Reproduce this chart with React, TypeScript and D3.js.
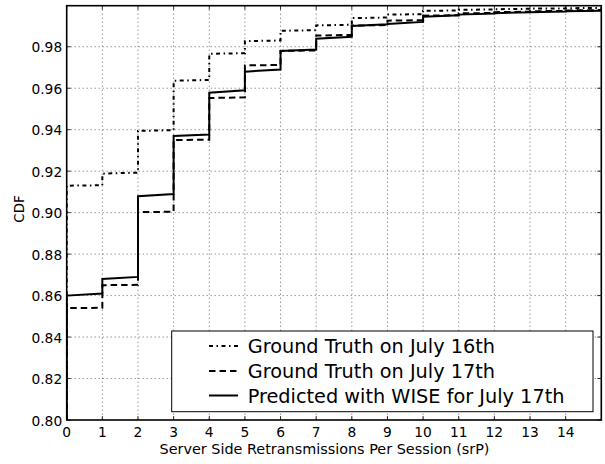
import React from "react";
import * as d3 from "d3";

// Retransmission counts (x) and CDF levels over each unit interval [k, k+1):
// value at the start of the interval and at its end.
const srpBins = [0, 1, 2, 3, 4, 5, 6, 7, 8, 9, 10, 11, 12, 13, 14];

const july16Start = [0.913, 0.9188, 0.9394, 0.9636, 0.9766, 0.9827, 0.9877, 0.9903, 0.9938, 0.9955, 0.9973, 0.9978, 0.9981, 0.9984, 0.9986];
const july16End = [0.9132, 0.9193, 0.9398, 0.964, 0.9769, 0.983, 0.988, 0.9906, 0.9941, 0.9957, 0.9975, 0.998, 0.9983, 0.9985, 0.9987];

const july17Start = [0.854, 0.865, 0.9003, 0.935, 0.9553, 0.971, 0.978, 0.9854, 0.9902, 0.9926, 0.995, 0.9961, 0.9967, 0.9971, 0.9975];
const july17End = [0.8541, 0.8652, 0.9004, 0.9352, 0.9556, 0.9712, 0.9782, 0.9857, 0.9905, 0.9928, 0.9952, 0.9963, 0.9969, 0.9973, 0.9977];

const wiseStart = [0.86, 0.868, 0.9079, 0.937, 0.9578, 0.968, 0.978, 0.9839, 0.99, 0.991, 0.9945, 0.9955, 0.9962, 0.9967, 0.9971];
const wiseEnd = [0.861, 0.869, 0.909, 0.9377, 0.959, 0.969, 0.9787, 0.9848, 0.9908, 0.992, 0.9952, 0.996, 0.9966, 0.997, 0.9974];

const xTicks = [0, 1, 2, 3, 4, 5, 6, 7, 8, 9, 10, 11, 12, 13, 14];
const yTicks = [0.8, 0.82, 0.84, 0.86, 0.88, 0.9, 0.92, 0.94, 0.96, 0.98];

const legendLabels = [
  "Ground Truth on July 16th",
  "Ground Truth on July 17th",
  "Predicted with WISE for July 17th",
];

const W = 605;
const H = 464;
const plot = { left: 66.7, right: 601.3, top: 5.7, bottom: 420 };
const FONT = "'DejaVu Sans', sans-serif";

const x = d3.scaleLinear().domain([0, 15]).range([plot.left, plot.right]);
const y = d3.scaleLinear().domain([0.8, 0.9998]).range([plot.bottom, plot.top]);

function stepPoints(starts: number[], ends: number[]): [number, number][] {
  const pts: [number, number][] = [[srpBins[0], y.domain()[0]]];
  srpBins.forEach((k, i) => {
    pts.push([k, starts[i]]);
    pts.push([k + 1, ends[i]]);
  });
  return pts;
}

const line = d3
  .line<[number, number]>()
  .x((d) => x(d[0]))
  .y((d) => y(d[1]));

const series = [
  { label: legendLabels[0], pts: stepPoints(july16Start, july16End), dash: "4,3.5,1.5,3.5" },
  { label: legendLabels[1], pts: stepPoints(july17Start, july17End), dash: "6.5,4" },
  { label: legendLabels[2], pts: stepPoints(wiseStart, wiseEnd), dash: undefined as string | undefined },
];

export default function App() {
  const tickLen = 4;
  const legend = { x: 171.7, y: 331, w: 421.3, h: 80.7 };
  const rowY = [346, 371, 395.5];
  return (
    <svg
      width={W}
      height={H}
      style={{ position: "absolute", left: 0, top: 0, background: "#fff" }}
      fontFamily={FONT}
    >
      <defs>
        <clipPath id="plotClip">
          <rect x={plot.left} y={plot.top} width={plot.right - plot.left} height={plot.bottom - plot.top} />
        </clipPath>
      </defs>
      <rect width={W} height={H} fill="#fff" />

      {/* grid */}
      <g stroke="#000" strokeWidth={0.6} strokeDasharray="1,3">
        {xTicks.slice(1).map((t) => (
          <line key={"gx" + t} x1={x(t)} x2={x(t)} y1={plot.top} y2={plot.bottom} />
        ))}
        {yTicks.slice(1).map((t) => (
          <line key={"gy" + t} x1={plot.left} x2={plot.right} y1={y(t)} y2={y(t)} />
        ))}
      </g>

      {/* CDF curves */}
      <g clipPath="url(#plotClip)" fill="none" stroke="#000" strokeWidth={2}>
        {series.map((s) => (
          <path key={s.label} d={line(s.pts) || ""} strokeDasharray={s.dash} />
        ))}
      </g>

      {/* ticks (inside, all sides) */}
      <g stroke="#000" strokeWidth={0.8}>
        {xTicks.map((t) => (
          <g key={"tx" + t}>
            <line x1={x(t)} x2={x(t)} y1={plot.bottom} y2={plot.bottom - tickLen} />
            <line x1={x(t)} x2={x(t)} y1={plot.top} y2={plot.top + tickLen} />
          </g>
        ))}
        {yTicks.map((t) => (
          <g key={"ty" + t}>
            <line x1={plot.left} x2={plot.left + tickLen} y1={y(t)} y2={y(t)} />
            <line x1={plot.right} x2={plot.right - tickLen} y1={y(t)} y2={y(t)} />
          </g>
        ))}
      </g>

      {/* frame */}
      <rect
        x={plot.left}
        y={plot.top}
        width={plot.right - plot.left}
        height={plot.bottom - plot.top}
        fill="none"
        stroke="#000"
        strokeWidth={1.6}
      />

      {/* tick labels */}
      <g fontSize={13.8} fill="#000">
        {xTicks.map((t) => (
          <text key={"lx" + t} x={x(t)} y={plot.bottom + 17} textAnchor="middle">
            {t}
          </text>
        ))}
        {yTicks.map((t) => (
          <text key={"ly" + t} x={plot.left - 4.5} y={y(t) + 5.6} textAnchor="end">
            {d3.format(".2f")(t)}
          </text>
        ))}
      </g>

      {/* axis labels */}
      <text x={324.5} y={454} fontSize={14.4} textAnchor="middle" fill="#000">
        Server Side Retransmissions Per Session (srP)
      </text>
      <text
        transform={`translate(${24}, ${209}) rotate(-90)`}
        fontSize={13.4}
        textAnchor="middle"
        fill="#000"
      >
        CDF
      </text>

      {/* legend */}
      <rect x={legend.x} y={legend.y} width={legend.w} height={legend.h} fill="#fff" stroke="#000" strokeWidth={1} />
      {series.map((s, i) => (
        <g key={"lg" + i}>
          <line
            x1={209}
            x2={238}
            y1={rowY[i]}
            y2={rowY[i]}
            stroke="#000"
            strokeWidth={2}
            strokeDasharray={s.dash}
          />
          <text x={247.7} y={rowY[i] + 7} fontSize={19.3} fill="#000">
            {s.label}
          </text>
        </g>
      ))}
    </svg>
  );
}
